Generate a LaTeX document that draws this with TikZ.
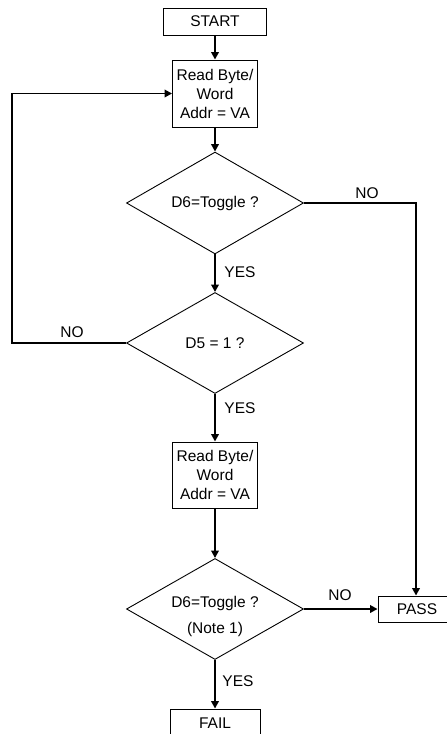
\documentclass[tikz,border=0pt]{standalone}
\usepackage{fontspec}
\setmainfont{Liberation Sans}
\usetikzlibrary{shapes.geometric,arrows.meta}
\begin{document}
\begin{tikzpicture}[x=1pt,y=-1pt,
  every node/.style={font=\fontsize{15.5}{19}\selectfont},
  box/.style={draw,line width=0.9pt,rectangle,inner sep=0pt,align=center},
  decision/.style={draw,line width=0.9pt,diamond,inner sep=0pt,
    minimum width=177pt,minimum height=101pt,align=center},
  flow/.style={line width=1.9pt,-{Triangle[length=7.5pt,width=7.5pt]}},
  lbl/.style={inner sep=0pt}]
\useasboundingbox (0,0) rectangle (447,734);
\clip (0,0) rectangle (447,734);

% process boxes
\node[box,minimum width=103pt,minimum height=27pt] (start) at (215,21.5) {START};
\node[box,minimum width=85pt,minimum height=67pt] (read1) at (215,93.5)
  {Read Byte/\\Word\\Addr = VA};
\node[box,minimum width=85pt,minimum height=66pt] (read2) at (215,475)
  {Read Byte/\\Word\\Addr = VA};
\node[box,minimum width=78pt,minimum height=26pt] (pass) at (417,609) {PASS};
\node[box,minimum width=90pt,minimum height=28pt] (fail) at (215,723) {FAIL};

% decisions
\node[decision] (d1) at (215,203) {D6=Toggle ?};
\node[decision] (d2) at (215,343) {D5 = 1 ?};
\node[decision] (d3) at (215,609) {};
\node[lbl] (d3a) at (215,603) {D6=Toggle ?};
\node[lbl] (d3b) at (215,629) {(Note 1)};

% connectors
\draw[flow] (start) -- (read1);
\draw[flow] (read1) -- (d1);
\draw[flow] (d1) -- (d2);
\draw[flow] (d2) -- (read2);
\draw[flow] (read2) -- (d3);
\draw[flow] (d3) -- (fail);
\draw[flow] (d3) -- (pass);
\coordinate (rt) at (416,203);
\draw[flow] (d1.east) -- (rt) -- (pass.north -| rt);
\coordinate (lb) at (12,343);
\coordinate (lt) at (12,93.5);
\draw[flow] (d2.west) -- (lb) -- (lt) -- (read1.west);

% branch labels
\node[lbl] (no1) at (367,193) {NO};
\node[lbl] (yes1) at (240,272) {YES};
\node[lbl] (no2) at (72,332) {NO};
\node[lbl] (yes2) at (240,408) {YES};
\node[lbl] (no3) at (340,595) {NO};
\node[lbl] (yes3) at (238,681) {YES};
\end{tikzpicture}
\end{document}
